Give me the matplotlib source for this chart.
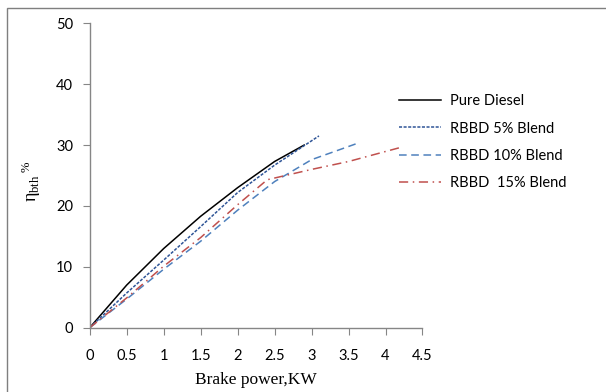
import matplotlib
matplotlib.use("Agg")
import matplotlib.pyplot as plt
from matplotlib.patches import Rectangle

# values
diesel_x = [0, 0.5, 1.0, 1.5, 2.0, 2.5, 2.9]
diesel_y = [0, 7.0, 13.0, 18.3, 23.0, 27.3, 30.0]

b5_x = [0, 0.5, 1.0, 1.5, 2.0, 2.5, 3.1]
b5_y = [0, 5.7, 11.1, 16.6, 22.2, 26.7, 31.5]

b10_x = [0, 0.5, 1.0, 1.5, 2.0, 2.5, 3.0, 3.6]
b10_y = [0, 4.7, 9.6, 14.2, 19.3, 24.0, 27.6, 30.2]

b15_x = [0, 0.5, 1.0, 1.5, 2.0, 2.4, 3.0, 3.5, 4.2]
b15_y = [0, 4.9, 10.1, 14.8, 20.2, 24.3, 26.0, 27.3, 29.6]

labels = ["Pure Diesel", "RBBD 5% Blend", "RBBD 10% Blend", "RBBD  15% Blend"]
xticks = [0, 0.5, 1, 1.5, 2, 2.5, 3, 3.5, 4, 4.5]
yticks = [0, 10, 20, 30, 40, 50]

W, H = 606, 392
fig = plt.figure(figsize=(W / 100, H / 100), dpi=100)
ax = fig.add_axes([89.7 / W, 1 - 327.7 / H, (422.5 - 89.7) / W, (327.7 - 23.3) / H])

# outer chart frame (runs off the right and bottom edges)
fig.patches.append(Rectangle((7 / W, -0.2), 1.2, 1.2 - 8 / H, transform=fig.transFigure,
                             fill=False, edgecolor="#7f7f7f", linewidth=1.0))

ax.plot(diesel_x, diesel_y, color="black", lw=1.1, label=labels[0])
ax.plot(b5_x, b5_y, color="#2f5597", lw=1.1, dashes=(2, 1), label=labels[1])
ax.plot(b10_x, b10_y, color="#4f81bd", lw=1.1, dashes=(5, 3), label=labels[2])
ax.plot(b15_x, b15_y, color="#c0504d", lw=1.1, dashes=(6, 3, 1, 3), label=labels[3])

ax.set_xlim(0, 4.5)
ax.set_ylim(0, 50)
ax.set_xticks(xticks)
ax.set_xticklabels([str(t) for t in xticks])
ax.set_yticks(yticks)

for s in ["top", "right"]:
    ax.spines[s].set_visible(False)
for s in ["left", "bottom"]:
    ax.spines[s].set_color("#868686")
    ax.spines[s].set_linewidth(1.0)

ax.tick_params(axis="x", direction="out", length=5, color="#868686", pad=10,
               labelsize=10.5, labelfontfamily="Lato")
ax.tick_params(axis="y", direction="out", length=5, color="#868686", pad=7,
               labelsize=10.5, labelfontfamily="Lato")

ax.set_xlabel("Brake power,KW", family="Liberation Serif", fontsize=12.5, labelpad=7)
fig.text(31 / W, 1 - 181 / H, r"$\mathregular{η_{bth}\,^{\%}}$", rotation=90, fontsize=13,
         family="Liberation Serif", ha="center", va="center")

ax.legend(loc="upper left", bbox_to_anchor=(386 / W, 1 - 81 / H), bbox_transform=fig.transFigure,
          frameon=False, prop={"family": "Lato", "size": 10.5}, handlelength=2.9,
          handletextpad=0.6, labelspacing=0.92)

fig.savefig("out.png", dpi=100)
